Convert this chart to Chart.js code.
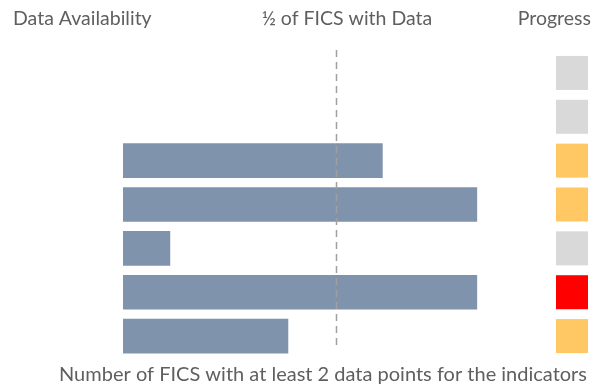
<!DOCTYPE html>
<html>
<head>
<meta charset="utf-8">
<script src="https://cdn.jsdelivr.net/npm/chart.js@4/dist/chart.umd.min.js"></script>
<style>
  html, body { margin: 0; padding: 0; background: #fff; }
  #wrap { width: 598px; height: 390px; }
</style>
</head>
<body>
<div id="wrap"><canvas id="availCanvas"></canvas></div>
<script>
// indicators (rows), FICS counts and progress status
const indicators = ["1", "2", "3", "4", "5", "6", "7"];
const ficsWithData = [null, null, 22, 30, 4, 30, 14];
const progress = ["none", "none", "partial", "partial", "none", "off", "partial"];
const totalFics = 36;
const halfFics = totalFics / 2;

const statusColors = {
    none: "#d9d9d9",
    partial: "#ffc864",
    off: "#ff0000"
};

const textColor = "#5f5f5f";
const textFont = "Lato, 'Open Sans', sans-serif";

// dashed half-way marker, header texts and progress squares
const extrasPlugin = {
    id: "extras",
    afterDatasetsDraw(chart) {
        const ctx = chart.ctx;
        const x = chart.scales.x;
        const y = chart.scales.y;
        const area = chart.chartArea;

        ctx.save();
        const xm = Math.round(x.getPixelForValue(halfFics)) + 0.5;
        ctx.strokeStyle = "#a0a0a0";
        ctx.lineWidth = 1.5;
        ctx.setLineDash([7, 5]);
        ctx.beginPath();
        ctx.moveTo(xm, 50);
        ctx.lineTo(xm, area.bottom - 12);
        ctx.stroke();
        ctx.restore();

        ctx.save();
        progress.forEach((p, i) => {
            const yc = y.getPixelForValue(i);
            ctx.fillStyle = statusColors[p];
            ctx.fillRect(556, yc - 17, 32, 34);
        });

        ctx.fillStyle = textColor;
        ctx.textBaseline = "alphabetic";
        ctx.font = "19.5px " + textFont;
        ctx.textAlign = "left";
        ctx.fillText("Data Availability", 13, 25);
        ctx.textAlign = "center";
        ctx.fillText("\u00BD of FICS with Data", 347, 25);
        ctx.textAlign = "right";
        ctx.fillText("Progress", 591, 25);

        ctx.font = "20px " + textFont;
        ctx.textAlign = "center";
        ctx.fillText("Number of FICS with at least 2 data points for the indicators", 323, 381);
        ctx.restore();
    }
};

new Chart(document.getElementById("availCanvas"), {
    type: "bar",
    data: {
        labels: indicators,
        datasets: [{
            data: ficsWithData,
            backgroundColor: "#8093ad",
            borderWidth: 0,
            categoryPercentage: 1,
            barPercentage: 0.79
        }]
    },
    options: {
        indexAxis: "y",
        responsive: true,
        maintainAspectRatio: false,
        animation: false,
        layout: {
            padding: { left: 123, right: 50, top: 51, bottom: 32 }
        },
        scales: {
            x: { display: false, min: 0, max: totalFics },
            y: { display: false }
        },
        plugins: {
            legend: { display: false },
            tooltip: { enabled: false }
        }
    },
    plugins: [extrasPlugin]
});
</script>
</body>
</html>
